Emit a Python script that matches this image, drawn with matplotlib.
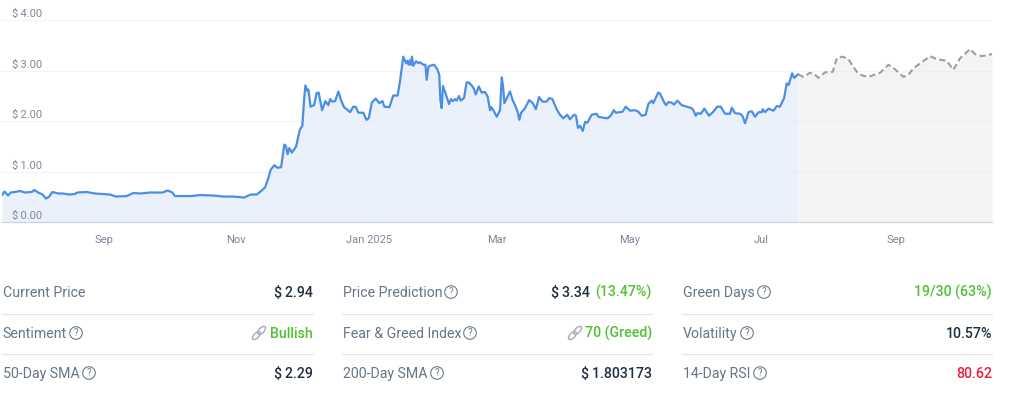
import datetime as dt
import matplotlib
matplotlib.use("Agg")
import matplotlib.pyplot as plt
import matplotlib.dates as mdates
from matplotlib.patches import Circle, Ellipse
import numpy as np

plt.rcParams["font.family"] = ["Roboto", "DejaVu Sans"]

# days since 16 Jul 2024, price in usd
hist_days = [0, 1.2, 2.8, 4, 6, 8.3, 10.6, 13.7, 14.9, 16.7, 18.7, 20.3, 21.8, 23.2, 26, 28.3, 30.6, 33.6, 34.7, 39,
             42.9, 46.7, 49.8, 52.5, 57.5, 60.5, 63.6, 68.2, 74, 76.3, 78.5, 79.7, 82.8, 87.4, 91.2, 97.4, 102, 106.6, 111.5, 114.6,
             117.4, 119.7, 121.2, 122.7, 123.8, 125.5, 126.9, 128.6, 129.3, 130.1, 130.9, 131.6, 132.4, 133.6, 135.5, 137.3, 138.4, 139.2, 139.8, 140.6,
             141.2, 142.2, 143.8, 145, 145.9, 147.5, 149, 150.4, 151.2, 152.2, 153.5, 155, 156.2, 157.6, 158.8, 160.4, 161.9, 163.1, 164.2, 166.5,
             167.9, 169, 170.4, 172.2, 173.9, 175.3, 176.2, 178.5, 180.3, 182.3, 183.4, 184.9, 186.2, 186.8, 187.4, 188, 188.5, 188.9, 189.5, 190.8,
             191.9, 192.6, 194.2, 195.1, 195.7, 196.5, 197.2, 199.1, 200.6, 201.5, 202, 202.6, 203.2, 204.1, 206, 206.9, 207.8, 208.8, 209.5, 210.6,
             211.4, 212.9, 214.1, 215.1, 216.4, 217.4, 218.3, 219.7, 221, 222.6, 223.8, 224.9, 225.5, 226.4, 228, 229.5, 230.3, 230.9, 231.5, 233,
             234.1, 235.3, 236.4, 237.6, 238.4, 239.2, 241, 242.9, 244.6, 246, 247.5, 249, 251, 252.1, 253.6, 255.6, 257.1, 258.7, 260.5, 261.7,
             263.6, 264.5, 265.4, 266.4, 267.6, 268.7, 269.7, 271.7, 274, 274.8, 277.1, 279.1, 280.5, 281.9, 282.9, 286, 287.4, 289.4, 291.7, 293.2,
             294.8, 296.6, 297.8, 299.4, 300.1, 302.4, 303.2, 305.2, 306, 307.1, 308.6, 309.7, 311.2, 313.2, 315.5, 317.8, 318.6, 319.7, 320.4, 322,
             323.7, 325.8, 327.8, 329.6, 331.2, 333.2, 335.5, 336.3, 337.8, 340.1, 341.2, 342.4, 344, 345.5, 347, 348.6, 350.1, 350.6, 351.6, 353.2,
             355.5, 357, 358.5, 360.4, 361.6, 362.5, 364.1, 365, 366.8]
hist_price = [.54, .61, .53, .59, .60, .62, .59, .60, .64, .59, .55, .47, .51, .60, .57, .57, .55, .56, .59, .60,
              .57, .56, .55, .51, .52, .58, .57, .59, .59, .63, .59, .52, .52, .52, .54, .53, .51, .51, .49, .55,
              .55, .63, .69, .87, 1.04, 1.13, 1.08, 1.09, 1.30, 1.54, 1.50, 1.35, 1.47, 1.38, 1.50, 1.84, 1.91, 2.42, 2.71, 2.61,
              2.63, 2.29, 2.32, 2.56, 2.57, 2.22, 2.40, 2.32, 2.44, 2.39, 2.40, 2.59, 2.42, 2.28, 2.24, 2.18, 2.29, 2.28, 2.17, 2.17,
              2.03, 2.06, 2.37, 2.45, 2.36, 2.40, 2.29, 2.28, 2.51, 2.51, 2.79, 3.28, 3.15, 3.20, 3.12, 3.21, 3.12, 3.28, 3.10, 3.19,
              3.15, 3.17, 3.12, 3.12, 2.82, 3.08, 3.10, 3.12, 3.03, 2.92, 2.42, 2.26, 2.70, 2.59, 2.34, 2.44, 2.40, 2.44, 2.41, 2.50,
              2.41, 2.46, 2.77, 2.77, 2.71, 2.65, 2.53, 2.69, 2.57, 2.58, 2.49, 2.22, 2.28, 2.22, 2.09, 2.22, 2.87, 2.69, 2.36, 2.49,
              2.59, 2.42, 2.32, 2.19, 2.03, 2.17, 2.26, 2.42, 2.36, 2.24, 2.48, 2.39, 2.39, 2.46, 2.44, 2.24, 2.13, 2.06, 2.13, 2.04,
              2.13, 2.11, 1.87, 1.91, 1.81, 1.99, 1.97, 2.13, 2.15, 2.09, 2.07, 2.06, 2.11, 2.22, 2.17, 2.19, 2.29, 2.21, 2.22, 2.19,
              2.11, 2.13, 2.34, 2.41, 2.36, 2.57, 2.55, 2.37, 2.32, 2.38, 2.37, 2.33, 2.41, 2.32, 2.29, 2.26, 2.22, 2.11, 2.16, 2.15,
              2.25, 2.11, 2.19, 2.29, 2.29, 2.15, 2.15, 2.27, 2.16, 2.15, 2.11, 1.96, 2.18, 2.20, 2.09, 2.18, 2.18, 2.24, 2.18, 2.25,
              2.21, 2.30, 2.29, 2.46, 2.75, 2.72, 2.95, 2.86, 2.93]

pred_days = [366.8, 369.3, 372.3, 374.2, 376.2, 379.3, 382.8, 384.7, 387.4, 390, 393.9, 396.2, 399.2, 404.6, 408.5,
             411.5, 415.4, 417.7, 420, 423.8, 427.7, 430.7, 435.3, 438.4, 441.5, 446.1, 448.4, 451.5, 456.2]
pred_price = [2.93, 2.88, 2.96, 2.94, 2.86, 2.97, 2.98, 3.25, 3.28, 3.23, 2.98, 2.91, 2.88, 2.96, 3.12,
              3.03, 2.88, 2.92, 3.05, 3.17, 3.29, 3.23, 3.20, 3.02, 3.25, 3.43, 3.33, 3.29, 3.33]

y_ticks = [0, 1, 2, 3, 4]
x_tick_dates = [dt.date(2024, 9, 1), dt.date(2024, 11, 1), dt.date(2025, 1, 1), dt.date(2025, 3, 1),
                dt.date(2025, 5, 1), dt.date(2025, 7, 1), dt.date(2025, 9, 1)]
x_tick_labels = ["Sep", "Nov", "Jan 2025", "Mar", "May", "Jul", "Sep"]

DARK = "#1f2d42"
GREY = "#66758a"
GREEN = "#4fc133"
RED = "#ea1c3c"

# label, help icon x, value parts (text, colour, right edge), link icon x
col1 = [("Current Price", None, [("$\u20092.94", DARK, 313)], None),
        ("Sentiment", 76, [("Bullish", GREEN, 313)], 259),
        ("50-Day SMA", 89, [("$\u20092.29", DARK, 313)], None)]
col2 = [("Price Prediction", 451, [("$\u20093.34", DARK, 590), ("(13.47%)", GREEN, 652)], None),
        ("Fear & Greed Index", 470, [("70 (Greed)", GREEN, 652)], 575),
        ("200-Day SMA", 437, [("$\u20091.803173", DARK, 652)], None)]
col3 = [("Green Days", 764, [("19/30 (63%)", GREEN, 992)], None),
        ("Volatility", 747, [("10.57%", DARK, 992)], None),
        ("14-Day RSI", 760, [("80.62", RED, 992)], None)]
row_y = [292, 333, 373]
sep_y = [313.5, 353.5]

W, H = 1011, 394
fig = plt.figure(figsize=(W / 100, H / 100), dpi=100)

# chart
start = mdates.date2num(dt.date(2024, 7, 16))
hx = start + np.array(hist_days)
px = start + np.array(pred_days)
ax = fig.add_axes([2 / W, (H - 222.3) / H, 990 / W, 202 / H])
ax.fill_between(hx, hist_price, 0, color="#eaf1fb", lw=0, zorder=1)
ax.fill_between(px, pred_price, 0, color="#f4f4f4", lw=0, zorder=1)
for v in y_ticks[1:]:
    ax.axhline(v, color="#e6e9ee", lw=0.7, alpha=0.55, zorder=2)
ax.plot(hx, hist_price, color="#4a8fe3", lw=1.6, zorder=3)
ax.plot(px, pred_price, color="#9e9e9e", lw=1.5, dashes=(3.0, 1.6), zorder=3)
ax.set_xlim(start, start + 456.2)
ax.set_ylim(0, 4)
for s in ["top", "left", "right"]:
    ax.spines[s].set_visible(False)
ax.spines["bottom"].set_color("#ccd3dc")
ax.spines["bottom"].set_linewidth(0.9)
ax.patch.set_visible(False)
ax.set_yticks([])
ax.set_xticks([mdates.date2num(d) for d in x_tick_dates])
ax.set_xticklabels(x_tick_labels, fontsize=8, color="#7c889b")
ax.tick_params(axis="x", length=0, pad=9)
for v in y_ticks:
    ax.annotate(f"$\u2009{v:.2f}", xy=(0, v), xycoords=("axes fraction", "data"), xytext=(10, 1),
                textcoords="offset pixels", fontsize=7.9, color="#7c889b", va="bottom", parse_math=False)

# stats table, drawn in pixel coordinates
tb = fig.add_axes([0, 0, 1, 1])
tb.set_xlim(0, W)
tb.set_ylim(H, 0)
tb.axis("off")
tb.patch.set_visible(False)


def help_icon(x, y):
    tb.add_patch(Circle((x, y), 6.3, fill=False, ec="#6d7a8e", lw=0.8))
    tb.text(x, y + 0.3, "?", fontsize=7, color="#6d7a8e", ha="center", va="center")


def link_icon(x, y):
    for dx in (-2.6, 2.6):
        tb.add_patch(Ellipse((x + dx, y - dx), 10, 5, angle=-45, fill=False, ec="#a3acb9", lw=1.0))


for left, right, col in [(2, 313, col1), (342, 652, col2), (682, 992, col3)]:
    for y in sep_y:
        tb.plot([left, right], [y, y], color="#e2e5e9", lw=0.9)
    for y, (label, icon_x, values, link_x) in zip(row_y, col):
        tb.text(left + 0.6, y + 0.8, label, fontsize=10.15, color=GREY, ha="left", va="center")
        if icon_x:
            help_icon(icon_x, y)
        for text, c, edge in values:
            tb.text(edge, y + 0.8, text, fontsize=10.15, color=c, ha="right", va="center",
                    fontweight="medium", parse_math=False)
        if link_x:
            link_icon(link_x, y)

fig.savefig("out.png", dpi=100)
